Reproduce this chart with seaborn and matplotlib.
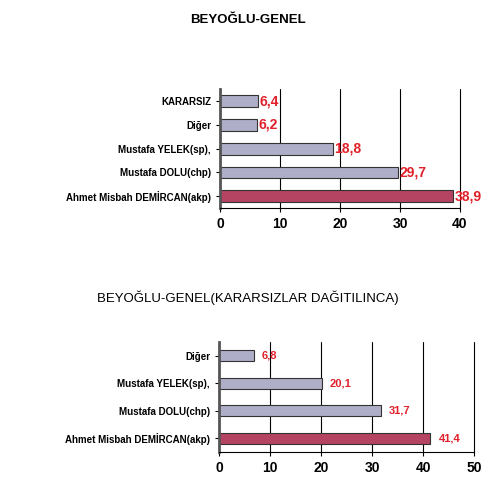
import matplotlib
matplotlib.use('Agg')
import matplotlib.pyplot as plt
import seaborn as sns
import pandas as pd

# ust grafik
names1 = ['KARARSIZ', 'Diğer', 'Mustafa YELEK(sp),', 'Mustafa DOLU(chp)', 'Ahmet Misbah DEMİRCAN(akp)']
vals1 = [6.4, 6.2, 18.8, 29.7, 38.9]
labels1 = ['6,4', '6,2', '18,8', '29,7', '38,9']

# alt grafik
names2 = ['Diğer', 'Mustafa YELEK(sp),', 'Mustafa DOLU(chp)', 'Ahmet Misbah DEMİRCAN(akp)']
vals2 = [6.8, 20.1, 31.7, 41.4]
labels2 = ['6,8', '20,1', '31,7', '41,4']

lav = '#aaaacc'
red = '#c8305a'

sns.set_style('white')
plt.rcParams['font.family'] = ['Liberation Sans', 'DejaVu Sans']

fig = plt.figure(figsize=(5.0, 4.98), dpi=100)


def draw(ax, names, vals, labels, xmax, barh, lblsize, pad):
    df = pd.DataFrame({'name': names, 'val': vals})
    pal = {n: (red if 'akp' in n else lav) for n in names}
    sns.barplot(data=df, x='val', y='name', hue='name', palette=pal, orient='h',
                width=barh, edgecolor='#333333', linewidth=0.8, legend=False, ax=ax)
    ax.set_xlim(0, xmax)
    ticks = list(range(0, xmax + 1, 10))
    ax.set_xticks(ticks)
    for t in ticks[1:]:
        ax.axvline(t, color='black', linewidth=0.8, zorder=0, clip_on=False)
    ax.set_xlabel('')
    ax.set_ylabel('')
    for s in ['top', 'right']:
        ax.spines[s].set_visible(False)
    ax.spines['left'].set_color('#555555')
    ax.spines['left'].set_linewidth(2)
    ax.spines['bottom'].set_color('black')
    ax.tick_params(axis='x', labelsize=10, length=3, direction='out', bottom=True, colors='black')
    ax.tick_params(axis='y', labelsize=7, length=3, left=True, colors='black')
    for t in ax.get_xticklabels() + ax.get_yticklabels():
        t.set_fontweight('bold')
    for c, lab in zip(ax.containers, labels):
        ax.bar_label(c, labels=[lab], padding=pad, color='#e0202a',
                     fontsize=lblsize, fontweight='bold')


ax1 = fig.add_axes([0.44, 0.582, 0.48, 0.239])
draw(ax1, names1, vals1, labels1, 40, 0.5, 10, 1)
fig.text(0.496, 0.96, 'BEYOĞLU-GENEL', ha='center', va='center', fontsize=9.5,
         color='black', fontweight='bold')

ax2 = fig.add_axes([0.438, 0.092, 0.51, 0.221])
draw(ax2, names2, vals2, labels2, 50, 0.4, 8, 6)
fig.text(0.496, 0.402, 'BEYOĞLU-GENEL(KARARSIZLAR DAĞITILINCA)', ha='center', va='center',
         fontsize=9.5, color='black')

fig.savefig('out.png', dpi=100, facecolor='white')
